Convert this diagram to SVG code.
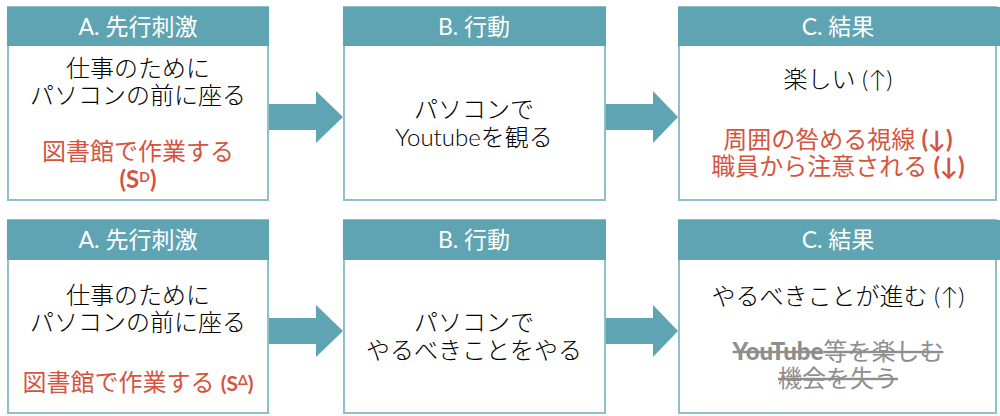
<svg xmlns="http://www.w3.org/2000/svg" width="1000" height="416" viewBox="0 0 1000 416">
<style>
.box{fill:#ffffff;stroke:#8fbfca;stroke-width:2}
.hdr{fill:#5fa4b2}
.ht{font-family:Lato,"Noto Sans CJK JP",sans-serif;font-size:23px;font-weight:400;fill:#ffffff;text-anchor:middle}
.bt{font-family:Lato,"Noto Sans CJK JP",sans-serif;font-size:24px;font-weight:300;fill:#000000;text-anchor:middle}
.rt{font-family:Lato,"Noto Sans CJK JP",sans-serif;font-size:24px;fill:#d4553f;text-anchor:middle}
.gt{font-family:Lato,"Noto Sans CJK JP",sans-serif;font-size:24px;fill:#8e8e8e;text-anchor:middle;text-decoration:line-through}
.arr{fill:#5fa4b2}
</style>
<rect width="1000" height="416" fill="#ffffff"/>
<g id="connectors">
<polygon class="arr" points="268,104 316,104 316,91 343,117 316,143 316,130 268,130"/>
<polygon class="arr" points="605,104 653,104 653,91 678,117 653,143 653,130 605,130"/>
<polygon class="arr" points="268,318 316,318 316,305 343,331 316,357 316,344 268,344"/>
<polygon class="arr" points="605,318 653,318 653,305 678,331 653,357 653,344 605,344"/>
</g>
<g id="a1">
<rect class="box" x="8" y="7" width="260" height="193"/>
<rect class="hdr" x="7" y="7" width="262" height="39"/>
<text class="ht" x="138" y="35">A. 先行刺激</text>
<text class="bt" x="138" y="77">仕事のために</text>
<text class="bt" x="138" y="104">パソコンの前に座る</text>
<text class="rt" x="138" y="160">図書館で作業する</text>
<text class="rt" x="138" y="188" font-weight="bold" font-size="21">(S<tspan font-size="14" dy="-6">D</tspan><tspan dy="6">)</tspan></text>
</g>
<g id="b1">
<rect class="box" x="344" y="7" width="261" height="193"/>
<rect class="hdr" x="343" y="7" width="263" height="39"/>
<text class="ht" x="474" y="35">B. 行動</text>
<text class="bt" x="474" y="118">パソコンで</text>
<text class="bt" x="474" y="146">Youtubeを観る</text>
</g>
<g id="c1">
<rect class="box" x="679" y="7" width="317" height="193"/>
<rect class="hdr" x="678" y="7" width="322" height="39"/>
<text class="ht" x="838" y="35">C. 結果</text>
<text class="bt" x="838" y="88">楽しい (↑)</text>
<text class="rt" x="838" y="148">周囲の咎める視線 <tspan font-weight="bold">(↓)</tspan></text>
<text class="rt" x="838" y="175">職員から注意される <tspan font-weight="bold">(↓)</tspan></text>
</g>
<g id="a2">
<rect class="box" x="8" y="220" width="260" height="193"/>
<rect class="hdr" x="7" y="220" width="262" height="40"/>
<text class="ht" x="138" y="248">A. 先行刺激</text>
<text class="bt" x="138" y="304">仕事のために</text>
<text class="bt" x="138" y="331">パソコンの前に座る</text>
<text class="rt" x="138" y="391">図書館で作業する <tspan font-weight="bold" font-size="21">(S<tspan font-size="14" dy="-6">Δ</tspan><tspan dy="6">)</tspan></tspan></text>
</g>
<g id="b2">
<rect class="box" x="344" y="220" width="261" height="193"/>
<rect class="hdr" x="343" y="220" width="263" height="40"/>
<text class="ht" x="474" y="248">B. 行動</text>
<text class="bt" x="474" y="331">パソコンで</text>
<text class="bt" x="474" y="359">やるべきことをやる</text>
</g>
<g id="c2">
<rect class="box" x="679" y="220" width="317" height="193"/>
<rect class="hdr" x="678" y="220" width="322" height="40"/>
<text class="ht" x="838" y="248">C. 結果</text>
<text class="bt" x="838" y="305">やるべきことが進む (↑)</text>
<text class="gt" x="838" y="360"><tspan font-weight="900">YouTube</tspan>等を楽しむ</text>
<text class="gt" x="838" y="387">機会を失う</text>
</g>
</svg>
